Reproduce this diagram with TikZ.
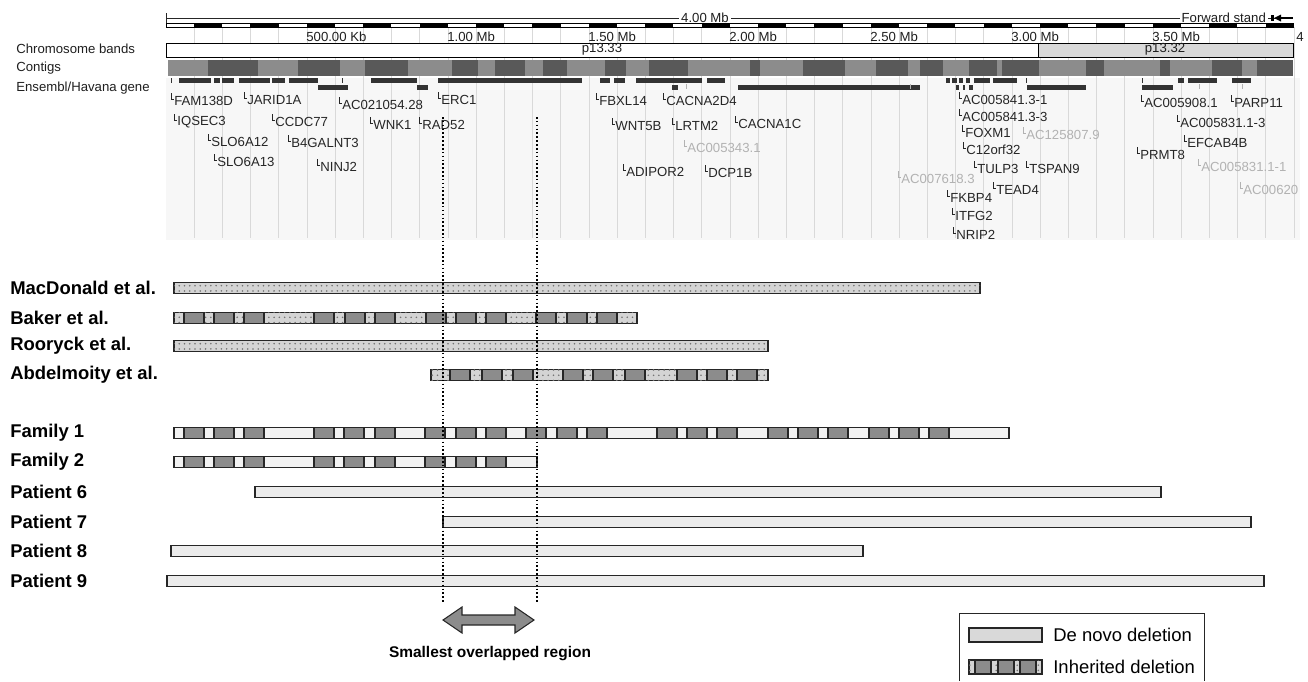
\documentclass[tikz,border=0pt]{standalone}
\usepackage{fontspec}
\setmainfont{Liberation Sans}
\usetikzlibrary{patterns}

\begin{document}
\begin{tikzpicture}[x=0.02cm, y=-0.02cm,
  lbl/.style={font=\fontsize{7.5}{8}\selectfont, inner sep=0pt, text=black!88},
  rowname/.style={font=\fontsize{10.5}{12}\selectfont\bfseries, anchor=west, inner sep=0pt},
  bar/.style={draw=black!85, line width=0.6pt},
  stipple/.style={fill=black!17, postaction={pattern=dots, pattern color=black!55}},
  block/.style={bar, fill=black!45},
  denovo/.style={bar, fill=black!8},
  cut/.style={black, line width=0.9pt, dash pattern=on 0.9pt off 1.3pt}]
\useasboundingbox (0,0) rectangle (1308,681);

% gene browser background and grid
\fill[black!3] (166,78) rectangle (1300,240);
\foreach \k in {1,...,40}
  \draw[black!15, line width=0.4pt] (166+28.2*\k,27) -- (166+28.2*\k,238);

% ruler
\draw[black!85, line width=0.5pt] (166,18) -- (1293,18);
\draw[black!85, line width=0.5pt] (166,13) -- (166,23);
\node[lbl, fill=white, inner xsep=1pt] (total) at (705,18) {4.00 Mb};
\node[lbl, fill=white, inner xsep=1pt, anchor=east] (strand) at (1268,18) {Forward stand};
\fill[black] (1271,15) rectangle (1274,21);
\fill[black] (1274,18) -- (1281,14.5) -- (1281,21.5) -- cycle;
\draw[black, line width=0.8pt] (1281,18) -- (1293,18);
\draw[line width=0.4pt] (166,23.5) rectangle (1293,27);
\foreach \k in {0,...,19}
  \fill (194+56.4*\k,23.5) rectangle ++(28.2,3.5);
\foreach \t/\s in {306/500.00 Kb, 447/1.00 Mb, 588/1.50 Mb, 729/2.00 Mb,
                   870/2.50 Mb, 1011/3.00 Mb, 1152/3.50 Mb}
  \node[lbl, anchor=west] at (\t,36.5) {\s};
\node[lbl, anchor=west] (four) at (1296,36.5) {4};

% chromosome bands
\draw[line width=0.4pt, fill=white] (166,43) rectangle (1038,57);
\draw[line width=0.4pt, fill=black!15] (1038,43) rectangle (1293,57);
\node[lbl] (p1333) at (602,49.5) {p13.33};
\node[lbl] (p1332) at (1165,49.5) {p13.32};

% contigs
\fill[black!45] (168,60) rectangle (1293,76);
\foreach \a/\b in {208/258, 298/340, 365/408, 452/478, 495/525, 543/567,
                   605/626, 649/688, 750/760, 803/845, 876/908, 920/943,
                   969/997, 1002/1039, 1086/1104, 1160/1170, 1212/1242, 1257/1293}
  \fill[black!65] (\a,60) rectangle (\b,76);

% gene models
\foreach \a/\b in {179/211, 214/220, 222/234, 239/270, 272/285, 289/318,
                   371/417, 438/582, 600/610, 614/625, 636/702, 707/725,
                   946/950, 952/957, 959/963, 966/970, 974/990, 993/1017,
                   1178/1184, 1188/1217, 1232/1251}
  \fill[black!80] (\a,78) rectangle (\b,82.5);
\foreach \a/\b in {318/348, 417/428, 672/678, 738/920, 956/959, 963/965,
                   969/973, 1027/1086, 1142/1173}
  \fill[black!80] (\a,85) rectangle (\b,89.5);
\foreach \a in {171, 342, 1026, 1142}
  \draw[black!80, line width=0.4pt] (\a,78) -- (\a,83);
\foreach \a in {686, 910, 1199, 1242}
  \draw[black!30, line width=0.4pt] (\a,84) -- (\a,89);

\node[lbl, anchor=west] (bands) at (16,49) {Chromosome bands};
\node[lbl, anchor=west] (contigs) at (16,68) {Contigs};
\node[lbl, anchor=west] (genes) at (16,88) {Ensembl/Havana gene};

% gene names
\foreach \x/\y/\g/\c [count=\i] in {
    171/101/FAM138D/black!85, 174/122/IQSEC3/black!85, 244/100/JARID1A/black!85,
    208/142/SLO6A12/black!85, 214/162/SLO6A13/black!85, 272/122/CCDC77/black!85,
    288/143/B4GALNT3/black!85, 317/167/NINJ2/black!85, 339/105/AC021054.28/black!85,
    370/125/WNK1/black!85, 419/125/RAD52/black!85, 438/100/ERC1/black!85,
    596/101/FBXL14/black!85, 663/101/CACNA2D4/black!85, 612/126/WNT5B/black!85,
    672/126/LRTM2/black!85, 735/124/CACNA1C/black!85, 684/148/AC005343.1/black!30,
    623/172/ADIPOR2/black!85, 705/173/DCP1B/black!85, 898/179/AC007618.3/black!30,
    959/100/AC005841.3-1/black!85, 959/117/AC005841.3-3/black!85, 962/133/FOXM1/black!85,
    1023/135/AC125807.9/black!30, 963/150/C12orf32/black!85, 974/169/TULP3/black!85,
    1026/169/TSPAN9/black!85, 993/190/TEAD4/black!85, 947/198/FKBP4/black!85,
    952/216/ITFG2/black!85, 953/235/NRIP2/black!85, 1141/103/AC005908.1/black!85,
    1231/103/PARP11/black!85, 1177/123/AC005831.1-3/black!85, 1184/143/EFCAB4B/black!85,
    1137/155/PRMT8/black!85, 1198/167/AC005831.1-1/black!30, 1240/190/AC00620/black!30} {
  \draw[\c, line width=0.4pt] (\x,\y-8) |- (\x+3,\y-2);
  \node[lbl, anchor=west, text=\c] (gene\i) at (\x+3,\y) {\g};
}

% published deletions
\node[rowname] (macdonald) at (10,288) {MacDonald et al.};
\draw[bar, stipple] (174,282.5) rectangle (980,293.5);

\node[rowname] (baker) at (10,318) {Baker et al.};
\draw[bar, stipple] (174,312.5) rectangle (637,323.5);
\foreach \a in {184,214,244,314,345,375,426,456,486,536,567,597}
  \draw[block] (\a,312.5) rectangle ++(20,11);

\node[rowname] (rooryck) at (10,346) {Rooryck et al.};
\draw[bar, stipple] (174,340.5) rectangle (768,351.5);

\node[rowname] (abdelmoity) at (10,375) {Abdelmoity et al.};
\draw[bar, stipple] (431,369.5) rectangle (768,380.5);
\foreach \a in {450,482,513,563,593,625,677,707,737}
  \draw[block] (\a,369.5) rectangle ++(20,11);

% families and patients
\node[rowname] (family1) at (10,433) {Family 1};
\draw[bar, fill=black!5] (174,427.5) rectangle (1009,438.5);
\foreach \a in {184,214,244,314,344,375,425,456,486,526,557,587,657,687,717,768,798,828,869,899,929}
  \draw[block] (\a,427.5) rectangle ++(20,11);

\node[rowname] (family2) at (10,462) {Family 2};
\draw[bar, fill=black!5] (174,456.5) rectangle (537,467.5);
\foreach \a in {184,214,244,314,344,375,425,456,486}
  \draw[block] (\a,456.5) rectangle ++(20,11);

\node[rowname] (patient6) at (10,492) {Patient 6};
\draw[denovo] (255,486.5) rectangle (1161,497.5);
\node[rowname] (patient7) at (10,522) {Patient 7};
\draw[denovo] (443,516.5) rectangle (1251,527.5);
\node[rowname] (patient8) at (10,551) {Patient 8};
\draw[denovo] (171,545.5) rectangle (863,556.5);
\node[rowname] (patient9) at (10,581) {Patient 9};
\draw[denovo] (167,575.5) rectangle (1264,586.5);

% smallest overlapped region
\coordinate (lefttop) at (443,117);
\coordinate (leftbot) at (443,603);
\coordinate (righttop) at (537,117);
\coordinate (rightbot) at (537,603);
\draw[cut] (lefttop) -- (leftbot);
\draw[cut] (righttop) -- (rightbot);
\filldraw[fill=black!45, draw=black!85, line width=0.6pt]
  (443,620) -- (462,607) -- (462,615) -- (515,615) -- (515,607) -- (534,620)
  -- (515,633) -- (515,625) -- (462,625) -- (462,633) -- cycle;
\node[font=\fontsize{8.8}{10}\selectfont\bfseries, inner sep=0pt] (smallest) at (490,654) {Smallest overlapped region};

% legend
\draw[black!85, line width=0.5pt] (959,681) |- (1204,613) -- (1204,681);
\draw[denovo, fill=black!15] (969,628) rectangle (1042,642);
\node[font=\fontsize{10.5}{12}\selectfont, anchor=west, inner sep=0pt] (denovolbl) at (1053,635) {De novo deletion};
\draw[bar, stipple] (969,660) rectangle (1042,674);
\foreach \a in {975,998,1020}
  \draw[block] (\a,660) rectangle ++(16,14);
\node[font=\fontsize{10.5}{12}\selectfont, anchor=west, inner sep=0pt] (inheritedlbl) at (1053,667) {Inherited deletion};
\end{tikzpicture}
\end{document}
